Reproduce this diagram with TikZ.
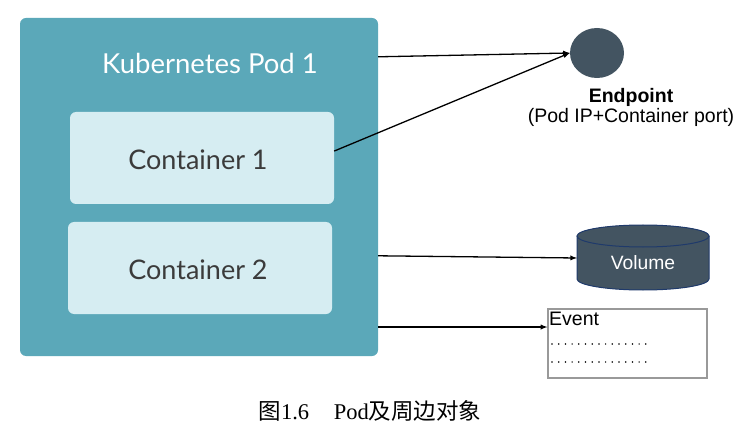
\documentclass[tikz,border=0pt]{standalone}
\usepackage{fontspec}
\setmainfont{Liberation Sans}
\newfontfamily\podfont{Lato}
\newfontfamily\capfont{Liberation Serif}
\newfontfamily\cjk{Noto Sans CJK SC}
\usetikzlibrary{shapes.geometric}
\definecolor{podteal}{HTML}{5BA8B9}
\definecolor{boxlight}{HTML}{D6EDF2}
\definecolor{slate}{HTML}{435461}
\definecolor{navy}{HTML}{1F3A6B}
\definecolor{textgray}{HTML}{3B3B3B}
\tikzset{
  podbox/.style={fill=podteal, rounded corners=6pt, inner sep=0pt},
  ctrbox/.style={fill=boxlight, rounded corners=6pt, inner sep=0pt,
    minimum width=264, minimum height=92},
  ctrtext/.style={text=textgray, font=\podfont\fontsize{27}{31}\selectfont},
  link/.style={-latex, line width=1.3pt, black}
}

\begin{document}
\begin{tikzpicture}[x=1pt, y=-1pt]
\useasboundingbox (0,0) rectangle (754,446);

% the pod and its containers
\node[podbox, minimum width=358, minimum height=338] (pod) at (199,187) {};
\node[text=white, font=\podfont\fontsize{27.5}{32}\selectfont] (title) at (210,63) {Kubernetes Pod 1};
\node[ctrbox] (c1) at (202,158) {};
\node[ctrbox] (c2) at (200,268) {};
\node[ctrtext] (c1t) at (198,160) {Container 1};
\node[ctrtext] (c2t) at (198,270) {Container 2};

% endpoint
\node[ellipse, fill=slate, inner sep=0pt, minimum width=54, minimum height=50] (ep) at (597,53) {};
\node[font=\bfseries\fontsize{19.5}{23}\selectfont] (eplabel) at (631,97) {Endpoint};
\node[font=\fontsize{19.5}{23}\selectfont] (epsub) at (631,117) {(Pod IP+Container port)};

% volume
\fill[slate] (577,236) -- (577,279) arc (180:0:66 and 11) -- (709,236) arc (0:-180:66 and 11) -- cycle;
\draw[navy, line width=1pt] (577,236) -- (577,279) arc (180:0:66 and 11) -- (709,236);
\draw[navy, line width=1pt, fill=slate] (643,236) ellipse [x radius=66, y radius=11];
\coordinate (volw) at (577,258);
\node[text=white, font=\fontsize{19.3}{22}\selectfont] (vol) at (643,263) {Volume};

% event
\node[draw=gray!80, line width=1.2pt, minimum width=159, minimum height=69, inner sep=0pt] (ev) at (627.5,343.5) {};
\node[anchor=base west, inner sep=0pt, font=\fontsize{19.5}{22}\selectfont] (evt) at (549,325) {Event};
\foreach \y in {344,362} \draw[line width=1.7pt, line cap=round, dash pattern=on 0pt off 6.7pt] (552,\y) -- (646,\y);

% connectors
\draw[link] (pod.36) -- (ep.west);
\draw[link] (c1.3) -- (ep.west);
\draw[link] (pod.-21.6) -- (volw);
\draw[link] (pod.-38) -- (ev.west |- pod.-38);

% caption
\node[font=\fontsize{22.5}{26}\selectfont] (cap) at (370,411) {{\cjk 图}{\capfont 1.6\hspace{1.1em}Pod}{\cjk 及周边对象}};
\end{tikzpicture}
\end{document}
